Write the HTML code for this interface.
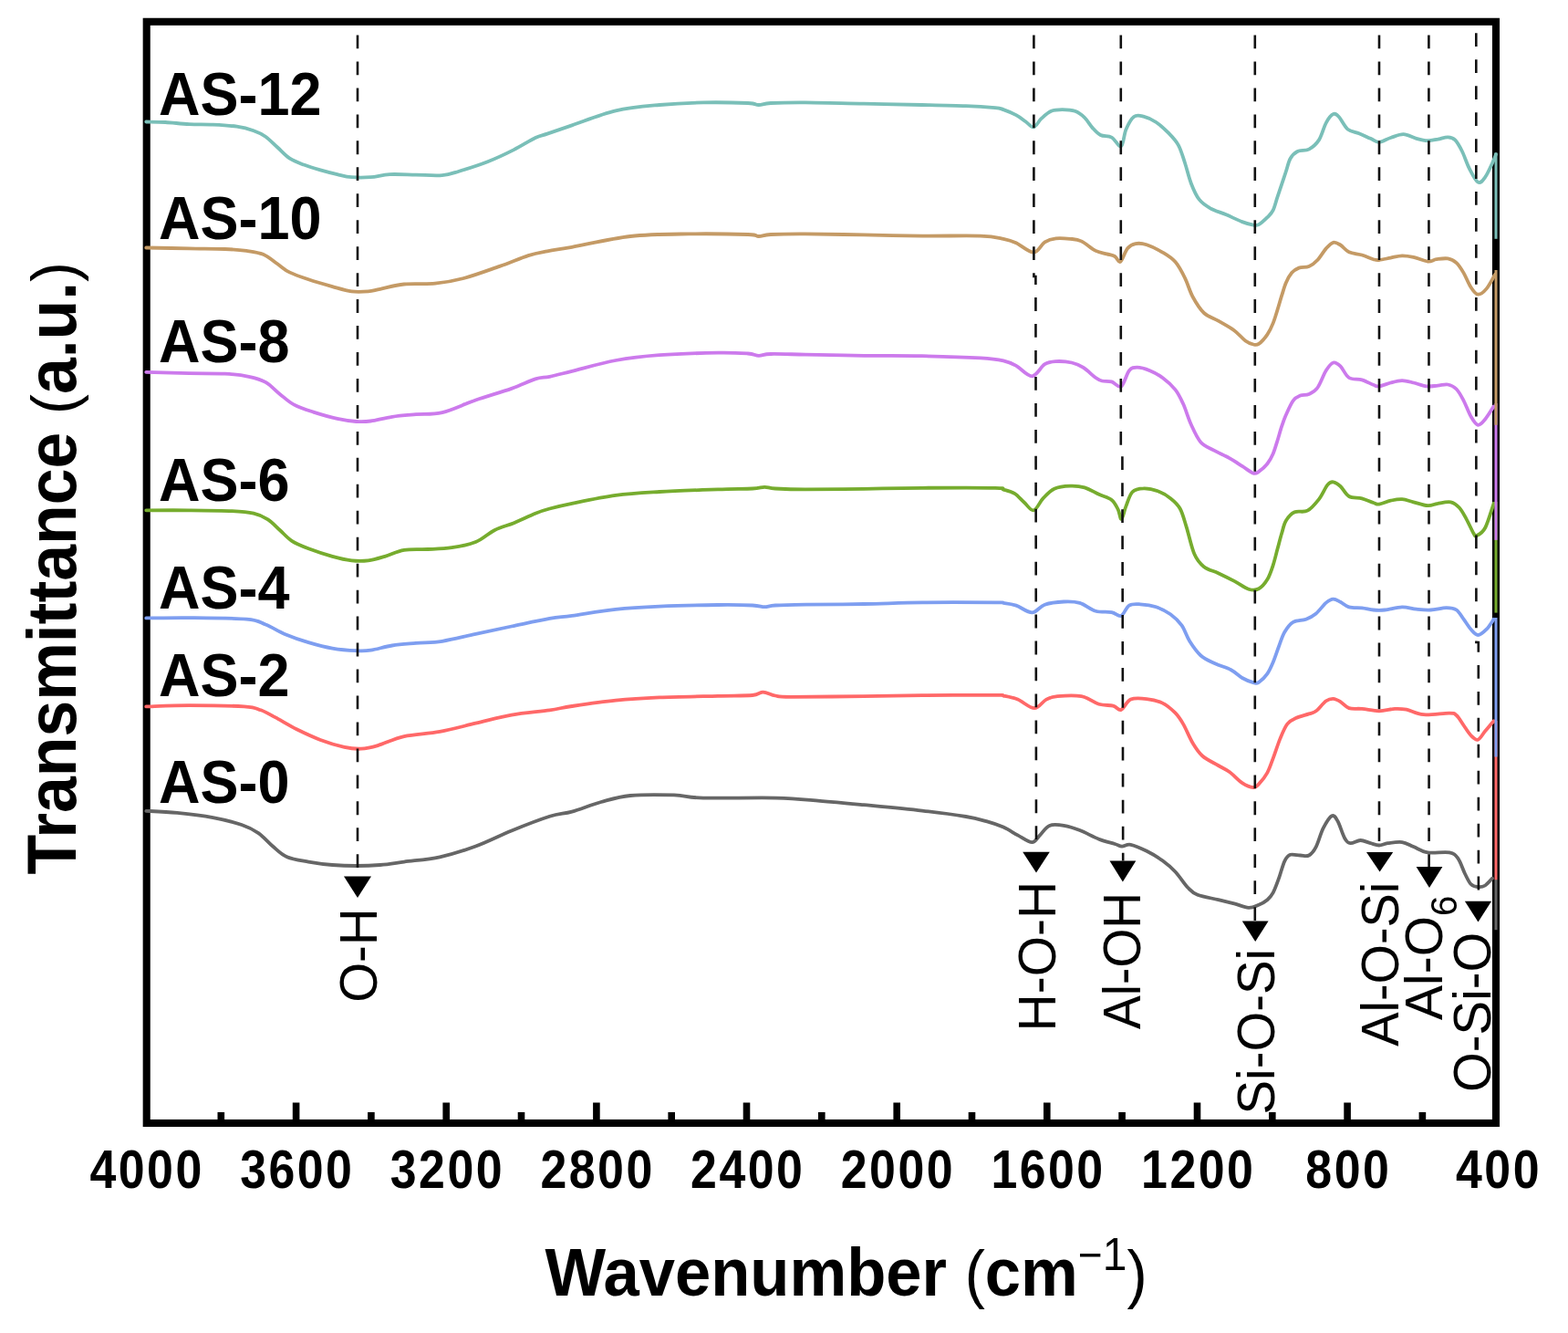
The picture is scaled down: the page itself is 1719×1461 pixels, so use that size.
<!DOCTYPE html>
<html><head><meta charset="utf-8"><title>FTIR spectra</title>
<style>html,body{margin:0;padding:0;background:#fff;}svg{display:block;}</style>
</head><body>
<svg width="1719" height="1461" viewBox="0 0 1719 1461">
<rect width="100%" height="100%" fill="#fff"/>
<rect x="160.7" y="23.8" width="1479.3" height="1207.2" fill="none" stroke="#000" stroke-width="8.1"/>
<path d="M242.3 1227.5V1219.0 M324.6 1227.5V1208.6 M406.9 1227.5V1219.0 M489.2 1227.5V1208.6 M571.5 1227.5V1219.0 M653.9 1227.5V1208.6 M736.2 1227.5V1219.0 M818.5 1227.5V1208.6 M900.8 1227.5V1219.0 M983.2 1227.5V1208.6 M1065.5 1227.5V1219.0 M1147.8 1227.5V1208.6 M1230.1 1227.5V1219.0 M1312.5 1227.5V1208.6 M1394.8 1227.5V1219.0 M1477.1 1227.5V1208.6 M1559.4 1227.5V1219.0" stroke="#000" stroke-width="7.6" fill="none"/>
<g font-family="Liberation Sans, Arial, sans-serif" font-weight="bold" font-size="57" text-anchor="middle" fill="#000">
<text transform="translate(161.1 1301.5) scale(0.91 1.047)" letter-spacing="2.7">4000</text>
<text transform="translate(325.8 1301.5) scale(0.91 1.047)" letter-spacing="2.7">3600</text>
<text transform="translate(490.4 1301.5) scale(0.91 1.047)" letter-spacing="2.7">3200</text>
<text transform="translate(655.1 1301.5) scale(0.91 1.047)" letter-spacing="2.7">2800</text>
<text transform="translate(819.7 1301.5) scale(0.91 1.047)" letter-spacing="2.7">2400</text>
<text transform="translate(984.4 1301.5) scale(0.91 1.047)" letter-spacing="2.7">2000</text>
<text transform="translate(1149.0 1301.5) scale(0.91 1.047)" letter-spacing="2.7">1600</text>
<text transform="translate(1313.7 1301.5) scale(0.91 1.047)" letter-spacing="2.7">1200</text>
<text transform="translate(1478.3 1301.5) scale(0.91 1.047)" letter-spacing="2.7">800</text>
<text transform="translate(1643.0 1301.5) scale(0.91 1.047)" letter-spacing="2.7">400</text>
</g>
<text transform="translate(927.5 1420.4) scale(1 1.06)" font-family="Liberation Sans, Arial, sans-serif" font-weight="bold" font-size="70.6" text-anchor="middle">Wavenumber <tspan font-weight="normal" font-size="66.6">(</tspan>cm<tspan font-weight="normal" font-size="46" dy="-27">−</tspan><tspan font-weight="normal" font-size="48">1</tspan><tspan font-weight="normal" font-size="66.6" dy="27">)</tspan></text>
<text transform="translate(82.8 622.8) rotate(-90) scale(1 1.05)" font-family="Liberation Sans, Arial, sans-serif" font-weight="bold" font-size="71.5" text-anchor="middle">Transmittance <tspan font-weight="normal" font-size="65.7">(</tspan>a.u.<tspan font-weight="normal" font-size="65.7">)</tspan></text>
<path d="M160.2 888.8 C165.9 889.1 182.1 889.7 194.3 890.9 C206.5 892.1 221.7 893.9 233.5 896.1 C245.3 898.3 256.6 901.2 264.9 904.0 C273.2 906.8 277.6 909.2 283.3 913.1 C289.0 917.0 293.8 923.1 299.0 927.5 C304.2 931.9 308.2 936.4 314.7 939.3 C321.2 942.1 329.9 943.1 338.2 944.6 C346.5 946.1 355.7 947.3 364.4 948.0 C373.1 948.7 381.9 949.0 390.6 949.0 C399.3 949.0 408.1 948.7 416.8 948.0 C425.5 947.3 432.1 946.1 443.0 944.6 C453.9 943.1 469.1 942.1 482.2 939.3 C495.3 936.4 508.4 932.3 521.5 927.5 C534.6 922.7 547.3 916.0 560.8 910.5 C574.3 905.0 591.6 898.3 602.6 894.8 C613.6 891.3 617.6 892.2 627.0 889.6 C636.4 887.0 648.3 881.9 659.0 879.0 C669.7 876.1 677.7 873.3 691.0 872.0 C704.3 870.7 725.7 871.0 739.0 871.4 C752.3 871.8 752.3 874.1 771.0 874.6 C789.7 875.1 829.7 874.1 851.0 874.6 C872.3 875.1 883.0 876.5 899.0 877.8 C915.0 879.1 928.3 880.4 947.0 882.2 C965.7 884.0 992.3 886.5 1011.0 888.6 C1029.7 890.7 1047.3 893.1 1059.0 895.0 C1070.7 896.9 1074.6 898.3 1081.4 900.2 C1088.2 902.1 1094.3 904.1 1100.0 906.6 C1105.7 909.1 1110.5 912.6 1115.7 915.4 C1120.9 918.2 1127.3 923.2 1131.4 923.2 C1135.5 923.2 1136.9 918.5 1140.1 915.4 C1143.3 912.3 1146.2 906.6 1150.6 904.9 C1155.0 903.1 1160.8 904.0 1166.3 904.9 C1171.8 905.8 1177.4 907.6 1183.8 910.1 C1190.2 912.6 1198.3 917.2 1204.7 919.7 C1211.1 922.2 1218.0 923.7 1222.2 925.0 C1226.4 926.3 1227.1 927.5 1230.0 927.6 C1232.9 927.7 1235.1 924.9 1239.6 925.8 C1244.1 926.7 1251.3 929.9 1257.1 932.8 C1262.9 935.7 1269.3 939.5 1274.5 943.3 C1279.7 947.1 1283.8 950.5 1288.5 955.5 C1293.2 960.5 1298.3 968.8 1302.4 973.0 C1306.5 977.2 1307.4 978.6 1312.9 980.8 C1318.4 983.0 1328.9 984.5 1335.6 986.1 C1342.3 987.7 1347.6 989.0 1353.1 990.4 C1358.6 991.8 1364.3 994.6 1368.8 994.8 C1373.3 995.0 1376.6 993.1 1380.0 991.7 C1383.4 990.3 1386.8 988.4 1389.4 986.2 C1392.0 984.0 1393.6 982.3 1395.7 978.4 C1397.8 974.5 1399.9 968.5 1402.0 962.7 C1404.1 956.9 1406.2 948.1 1408.3 943.8 C1410.4 939.5 1411.7 937.8 1414.6 936.8 C1417.5 935.8 1422.1 937.4 1425.5 937.5 C1428.9 937.6 1432.1 939.1 1435.0 937.5 C1437.9 935.9 1440.2 933.1 1442.8 928.1 C1445.4 923.1 1447.8 913.3 1450.7 907.7 C1453.6 902.1 1457.5 895.6 1460.1 894.3 C1462.7 893.0 1464.1 895.7 1466.4 899.8 C1468.8 903.9 1471.9 914.6 1474.2 918.7 C1476.5 922.8 1477.6 923.8 1480.5 924.2 C1483.4 924.6 1487.8 921.0 1491.5 921.0 C1495.2 921.0 1499.1 923.3 1502.5 924.2 C1505.9 925.1 1508.8 926.5 1511.9 926.5 C1515.1 926.5 1517.2 924.8 1521.4 924.2 C1525.6 923.6 1532.4 922.5 1537.1 923.1 C1541.8 923.8 1544.9 926.2 1549.6 928.1 C1554.3 930.0 1558.8 933.4 1565.3 934.4 C1571.8 935.4 1583.4 933.3 1588.9 934.4 C1594.4 935.5 1595.4 936.8 1598.3 940.7 C1601.2 944.6 1603.8 953.3 1606.2 958.0 C1608.6 962.7 1610.2 966.6 1612.5 969.0 C1614.8 971.4 1617.7 971.9 1620.3 972.1 C1622.9 972.4 1625.6 972.1 1628.2 970.5 C1630.8 968.9 1634.7 964.0 1636.0 962.7" fill="none" stroke="#666666" stroke-width="3.8" stroke-linejoin="round" stroke-linecap="round"/>
<path d="M1640 964V1019.2" stroke="#666666" stroke-width="3"/>
<path d="M160.2 774.4 C168.1 774.2 189.5 773.1 207.4 773.1 C225.3 773.1 254.5 773.5 267.6 774.4 C280.7 775.3 280.2 776.3 285.9 778.3 C291.6 780.3 295.1 782.7 301.6 786.2 C308.2 789.7 316.9 795.2 325.2 799.3 C333.5 803.4 342.6 807.7 351.3 811.0 C360.0 814.3 370.1 817.3 377.5 818.9 C384.9 820.5 389.7 821.0 395.8 820.7 C401.9 820.4 406.3 819.4 414.2 817.1 C422.1 814.8 431.7 809.6 443.0 807.1 C454.3 804.6 469.1 804.3 482.2 801.9 C495.3 799.5 508.4 795.8 521.5 792.7 C534.6 789.7 547.3 786.0 560.8 783.6 C574.3 781.2 591.6 779.9 602.6 778.3 C613.6 776.7 614.9 775.8 627.0 774.0 C639.1 772.2 659.0 769.2 675.0 767.6 C691.0 766.0 704.3 765.2 723.0 764.4 C741.7 763.6 770.0 763.2 787.0 762.8 C804.0 762.4 816.7 762.7 825.0 762.0 C833.3 761.3 832.4 758.5 836.6 758.6 C840.8 758.7 844.9 761.6 850.0 762.5 C855.1 763.4 850.8 763.7 867.0 763.8 C883.2 763.9 923.0 763.4 947.0 763.1 C971.0 762.8 987.0 762.4 1011.0 762.2 C1035.0 762.0 1076.2 761.7 1091.0 761.8 C1105.8 761.9 1095.9 761.8 1100.0 762.6 C1104.1 763.4 1110.0 764.3 1115.7 766.6 C1121.4 768.9 1128.8 776.2 1134.0 776.2 C1139.2 776.2 1142.9 768.8 1147.1 766.6 C1151.3 764.4 1152.9 763.7 1159.3 763.1 C1165.7 762.5 1177.9 761.7 1185.5 763.1 C1193.1 764.5 1198.9 770.0 1204.7 771.8 C1210.5 773.5 1216.3 772.6 1220.4 773.6 C1224.5 774.6 1225.9 779.1 1229.1 777.9 C1232.3 776.7 1234.9 768.6 1239.6 766.6 C1244.3 764.6 1251.3 765.4 1257.1 766.1 C1262.9 766.8 1269.3 768.1 1274.5 770.6 C1279.7 773.1 1284.7 777.6 1288.5 781.4 C1292.3 785.2 1294.0 788.1 1297.2 793.6 C1300.4 799.1 1304.2 808.8 1307.7 814.6 C1311.2 820.4 1313.6 824.4 1318.2 828.5 C1322.8 832.6 1330.7 836.1 1335.6 839.0 C1340.5 841.9 1343.4 842.8 1347.8 846.0 C1352.2 849.2 1357.4 855.4 1361.8 858.2 C1366.2 861.1 1371.0 862.9 1374.0 863.1 C1377.0 863.3 1377.4 862.1 1380.0 859.4 C1382.6 856.7 1386.8 851.5 1389.4 846.8 C1392.0 842.1 1393.3 837.4 1395.7 831.1 C1398.1 824.8 1401.0 815.4 1403.6 809.1 C1406.2 802.8 1408.5 797.1 1411.4 793.4 C1414.3 789.7 1416.9 788.9 1420.8 787.1 C1424.7 785.3 1431.3 783.7 1435.0 782.4 C1438.7 781.1 1439.7 781.6 1442.8 779.3 C1445.9 776.9 1450.6 770.5 1453.8 768.3 C1457.0 766.1 1459.1 765.8 1461.7 765.9 C1464.3 766.0 1466.6 767.4 1469.5 769.1 C1472.4 770.8 1475.0 774.8 1478.9 776.1 C1482.8 777.4 1487.6 776.4 1493.1 776.9 C1498.6 777.4 1505.9 779.3 1511.9 779.3 C1517.9 779.3 1524.2 777.2 1529.2 776.9 C1534.2 776.6 1536.6 776.7 1541.8 777.7 C1547.0 778.8 1552.8 782.6 1560.6 783.2 C1568.4 783.9 1582.9 781.5 1588.9 781.6 C1594.9 781.7 1594.1 781.8 1596.7 784.0 C1599.3 786.2 1602.0 791.3 1604.6 795.0 C1607.2 798.7 1609.9 803.4 1612.5 806.0 C1615.1 808.6 1617.7 811.5 1620.3 810.7 C1622.9 809.9 1625.3 804.7 1628.2 801.3 C1631.1 797.9 1636.0 792.1 1637.6 790.3" fill="none" stroke="#ff6868" stroke-width="3.8" stroke-linejoin="round" stroke-linecap="round"/>
<path d="M1640 790V964.2" stroke="#ff6868" stroke-width="3"/>
<path d="M160.2 677.4 C168.1 677.4 189.1 676.9 207.4 677.1 C225.7 677.3 256.2 677.5 270.2 678.7 C284.1 679.9 284.1 681.8 291.1 684.5 C298.1 687.2 304.2 691.6 312.1 694.9 C320.0 698.2 329.5 701.5 338.2 704.1 C346.9 706.7 355.7 709.1 364.4 710.6 C373.1 712.1 383.6 712.9 390.6 713.2 C397.6 713.6 399.8 713.7 406.3 712.7 C412.9 711.8 421.6 708.8 429.9 707.5 C438.2 706.2 446.9 705.7 456.0 704.9 C465.1 704.1 473.9 704.5 484.8 702.8 C495.7 701.1 508.8 697.6 521.5 694.9 C534.2 692.2 547.3 689.3 560.8 686.5 C574.3 683.7 591.6 679.9 602.6 677.9 C613.6 675.9 614.9 676.5 627.0 674.8 C639.1 673.1 659.0 669.5 675.0 667.8 C691.0 666.1 704.3 665.4 723.0 664.6 C741.7 663.8 770.0 663.2 787.0 663.0 C804.0 662.8 816.5 663.1 825.0 663.5 C833.5 663.9 834.0 665.2 838.2 665.2 C842.4 665.2 842.5 663.9 850.0 663.5 C857.5 663.1 866.8 662.9 883.0 662.6 C899.2 662.4 925.7 662.4 947.0 662.0 C968.3 661.6 987.0 660.7 1011.0 660.4 C1035.0 660.1 1076.2 660.3 1091.0 660.4 C1105.8 660.5 1096.2 660.4 1100.0 660.9 C1103.8 661.4 1108.8 661.9 1114.0 663.6 C1119.2 665.4 1126.2 671.5 1131.4 671.4 C1136.6 671.2 1139.6 664.7 1145.4 662.7 C1151.2 660.7 1159.9 659.8 1166.3 659.5 C1172.7 659.2 1178.0 659.2 1183.8 660.9 C1189.6 662.6 1195.4 668.0 1201.2 669.7 C1207.0 671.4 1214.1 670.2 1218.7 671.1 C1223.3 672.0 1225.9 676.1 1229.1 674.9 C1232.3 673.6 1234.4 665.7 1237.9 663.6 C1241.4 661.5 1245.2 662.0 1250.1 662.3 C1255.0 662.6 1262.0 663.5 1267.5 665.3 C1273.0 667.1 1278.5 669.9 1283.2 673.2 C1287.9 676.6 1292.0 680.5 1295.5 685.4 C1299.0 690.3 1300.7 697.3 1304.2 702.8 C1307.7 708.3 1311.8 714.4 1316.4 718.5 C1321.1 722.6 1326.6 724.7 1332.1 727.3 C1337.6 729.9 1344.6 731.6 1349.6 734.2 C1354.5 736.8 1357.7 740.7 1361.8 743.0 C1365.9 745.3 1371.0 747.4 1374.0 748.2 C1377.0 749.0 1377.4 749.4 1380.0 747.8 C1382.6 746.2 1386.8 742.1 1389.4 738.4 C1392.0 734.7 1393.6 730.8 1395.7 725.8 C1397.8 720.8 1399.9 714.0 1402.0 708.5 C1404.1 703.0 1405.7 697.2 1408.3 692.8 C1410.9 688.3 1413.8 684.1 1417.7 681.8 C1421.6 679.4 1427.6 680.3 1431.8 678.7 C1436.0 677.1 1439.1 675.4 1442.8 672.4 C1446.5 669.4 1450.6 663.2 1453.8 660.6 C1457.0 658.0 1459.1 656.8 1461.7 656.7 C1464.3 656.6 1466.6 658.4 1469.5 659.8 C1472.4 661.2 1475.0 664.2 1478.9 665.3 C1482.8 666.4 1488.6 665.9 1493.1 666.4 C1497.5 666.9 1501.4 668.1 1505.6 668.5 C1509.8 668.9 1513.0 669.0 1518.2 668.5 C1523.5 668.0 1531.3 665.4 1537.1 665.3 C1542.9 665.2 1547.6 667.2 1552.8 667.7 C1558.0 668.2 1563.0 668.8 1568.5 668.5 C1574.0 668.2 1581.0 666.1 1585.7 666.1 C1590.4 666.1 1593.6 666.4 1596.7 668.5 C1599.8 670.6 1602.0 675.2 1604.6 678.7 C1607.2 682.2 1609.9 686.8 1612.5 689.7 C1615.1 692.6 1617.4 696.0 1620.3 696.0 C1623.2 696.0 1626.8 692.6 1629.7 689.7 C1632.6 686.8 1636.3 680.5 1637.6 678.7" fill="none" stroke="#7e9ef0" stroke-width="3.8" stroke-linejoin="round" stroke-linecap="round"/>
<path d="M1640 677V829.5" stroke="#7e9ef0" stroke-width="3"/>
<path d="M160.2 559.3 C168.1 559.3 191.7 559.2 207.4 559.3 C223.1 559.4 242.7 559.5 254.5 560.1 C266.3 560.7 271.5 561.2 278.0 562.7 C284.5 564.2 288.9 566.2 293.7 569.3 C298.5 572.3 302.4 577.1 306.8 581.0 C311.2 584.9 314.7 589.4 319.9 592.8 C325.1 596.2 330.8 598.4 338.2 601.2 C345.6 604.0 356.5 607.6 364.4 609.8 C372.3 612.0 378.8 613.5 385.4 614.3 C391.9 615.0 397.6 615.0 403.7 614.3 C409.8 613.5 415.4 611.7 422.0 609.8 C428.6 607.9 435.1 604.1 443.0 602.8 C450.9 601.5 460.4 602.4 469.1 602.0 C477.8 601.6 486.6 601.5 495.3 600.2 C504.0 598.9 513.6 597.3 521.5 594.1 C529.4 590.9 535.4 584.5 542.4 581.0 C549.4 577.5 556.0 576.2 563.4 573.2 C570.8 570.2 580.4 565.3 586.9 562.7 C593.4 560.1 595.9 559.3 602.6 557.5 C609.3 555.7 614.9 554.2 627.0 551.8 C639.1 549.3 659.0 544.9 675.0 542.8 C691.0 540.7 704.3 540.1 723.0 539.0 C741.7 537.9 770.0 537.0 787.0 536.4 C804.0 535.8 816.5 535.9 825.0 535.5 C833.5 535.1 834.0 533.8 838.2 533.8 C842.4 533.8 842.5 535.1 850.0 535.5 C857.5 535.9 866.8 536.4 883.0 536.4 C899.2 536.4 925.7 536.1 947.0 535.8 C968.3 535.5 987.0 535.0 1011.0 534.8 C1035.0 534.6 1076.2 534.5 1091.0 534.8 C1105.8 535.1 1096.5 535.6 1100.0 536.6 C1103.5 537.6 1108.4 538.6 1112.2 540.9 C1116.0 543.2 1119.2 547.4 1122.7 550.5 C1126.2 553.6 1129.7 560.0 1133.2 559.3 C1136.7 558.6 1139.8 550.1 1143.6 546.2 C1147.4 542.3 1150.8 538.0 1155.8 535.7 C1160.8 533.4 1167.8 532.8 1173.3 532.6 C1178.8 532.4 1183.8 532.8 1189.0 534.3 C1194.2 535.8 1199.8 539.5 1204.7 541.8 C1209.7 544.1 1215.2 545.1 1218.7 547.9 C1222.2 550.7 1223.9 554.9 1225.7 558.4 C1227.5 561.9 1228.0 569.5 1229.5 568.9 C1231.0 568.3 1232.4 559.8 1234.4 554.9 C1236.4 550.0 1238.2 542.5 1241.4 539.2 C1244.6 536.0 1248.9 535.5 1253.6 535.4 C1258.2 535.2 1264.4 536.5 1269.3 538.3 C1274.2 540.1 1279.1 543.0 1283.2 546.2 C1287.3 549.4 1290.8 552.3 1293.7 557.5 C1296.6 562.7 1298.1 569.3 1300.7 577.6 C1303.3 585.9 1306.2 600.0 1309.4 607.3 C1312.6 614.6 1315.5 617.7 1319.9 621.2 C1324.3 624.7 1330.1 625.6 1335.6 628.2 C1341.1 630.8 1347.6 634.0 1353.1 636.9 C1358.6 639.8 1364.3 644.3 1368.8 645.7 C1373.3 647.1 1376.6 647.1 1380.0 645.3 C1383.4 643.5 1386.8 639.4 1389.4 635.1 C1392.0 630.8 1393.9 624.9 1395.7 619.4 C1397.5 613.9 1398.8 607.9 1400.4 602.1 C1402.0 596.3 1403.5 590.0 1405.1 584.8 C1406.7 579.6 1407.4 574.6 1409.8 570.7 C1412.2 566.8 1415.4 563.1 1419.3 561.3 C1423.2 559.5 1429.0 562.1 1433.4 559.7 C1437.9 557.3 1442.3 551.8 1446.0 547.1 C1449.7 542.4 1452.8 534.5 1455.4 531.4 C1458.0 528.3 1459.4 528.0 1461.7 528.3 C1464.0 528.6 1466.6 530.4 1469.5 533.0 C1472.4 535.6 1475.0 541.8 1478.9 544.0 C1482.8 546.2 1488.6 545.1 1493.1 546.3 C1497.5 547.5 1502.5 550.0 1505.6 551.0 C1508.7 552.0 1508.8 553.0 1511.9 552.6 C1515.1 552.2 1520.3 549.6 1524.5 548.7 C1528.7 547.8 1532.9 546.8 1537.1 547.1 C1541.3 547.4 1544.9 549.1 1549.6 550.3 C1554.3 551.5 1560.8 554.0 1565.3 554.2 C1569.8 554.5 1572.1 552.4 1576.3 551.8 C1580.5 551.1 1586.6 549.5 1590.5 550.3 C1594.4 551.1 1597.0 553.4 1599.9 556.5 C1602.8 559.6 1605.1 564.4 1607.7 569.1 C1610.3 573.8 1613.8 581.8 1615.6 584.8 C1617.4 587.8 1616.6 588.2 1618.7 587.2 C1620.8 586.2 1625.1 584.4 1628.2 578.5 C1631.3 572.6 1636.0 556.2 1637.6 551.8" fill="none" stroke="#76ac2e" stroke-width="3.8" stroke-linejoin="round" stroke-linecap="round"/>
<path d="M1640 550V671.6" stroke="#76ac2e" stroke-width="3"/>
<path d="M160.2 407.9 C168.1 408.1 193.0 408.9 207.4 409.2 C221.8 409.5 235.7 409.1 246.6 409.7 C257.5 410.3 265.4 411.3 272.8 412.8 C280.2 414.3 285.4 415.6 291.1 418.8 C296.8 422.0 301.6 427.8 306.8 431.9 C312.0 436.0 316.4 440.4 322.5 443.7 C328.6 447.0 335.6 449.1 343.5 451.6 C351.4 454.1 361.8 457.2 369.7 458.9 C377.6 460.6 384.5 461.6 390.6 462.0 C396.7 462.4 399.8 462.4 406.3 461.5 C412.9 460.6 421.6 458.0 429.9 456.8 C438.2 455.6 446.9 455.0 456.0 454.2 C465.1 453.4 473.9 454.7 484.8 452.1 C495.7 449.5 508.8 442.9 521.5 438.5 C534.2 434.1 549.9 429.8 560.8 425.9 C571.7 422.0 579.9 417.6 586.9 415.4 C593.9 413.2 595.9 414.2 602.6 412.8 C609.3 411.4 614.9 409.8 627.0 406.8 C639.1 403.8 659.0 397.9 675.0 395.0 C691.0 392.1 704.3 390.6 723.0 389.2 C741.7 387.8 770.8 386.9 787.0 386.6 C803.2 386.3 812.5 387.0 820.0 387.5 C827.5 388.0 827.6 389.7 831.8 389.8 C836.0 389.9 836.5 388.2 845.0 388.0 C853.5 387.8 866.0 388.3 883.0 388.6 C900.0 388.9 925.7 389.5 947.0 389.8 C968.3 390.1 989.7 389.8 1011.0 390.2 C1032.3 390.6 1060.2 391.5 1075.0 392.4 C1089.8 393.3 1093.5 394.0 1100.0 395.4 C1106.5 396.8 1108.8 398.1 1114.0 400.9 C1119.2 403.7 1126.2 412.6 1131.4 412.3 C1136.6 412.0 1141.0 401.9 1145.4 399.2 C1149.8 396.5 1152.7 396.4 1157.6 396.1 C1162.5 395.8 1170.0 396.4 1175.0 397.5 C1180.0 398.6 1182.9 399.9 1187.3 402.7 C1191.7 405.4 1197.7 411.5 1201.2 414.0 C1204.7 416.5 1205.3 416.8 1208.2 417.5 C1211.1 418.2 1215.2 417.4 1218.7 418.4 C1222.2 419.4 1225.9 425.6 1229.1 423.6 C1232.3 421.6 1235.0 409.7 1237.9 406.2 C1240.8 402.7 1242.8 402.7 1246.6 402.7 C1250.4 402.7 1255.9 404.3 1260.6 406.2 C1265.2 408.1 1269.8 410.5 1274.5 414.0 C1279.2 417.5 1284.7 422.3 1288.5 427.1 C1292.3 431.9 1294.3 436.4 1297.2 442.8 C1300.1 449.2 1302.7 458.5 1305.9 465.5 C1309.1 472.5 1312.3 480.1 1316.4 484.7 C1320.5 489.3 1325.2 490.5 1330.4 493.4 C1335.6 496.3 1342.6 499.3 1347.8 502.2 C1353.0 505.1 1357.4 508.1 1361.8 510.9 C1366.2 513.6 1371.0 517.7 1374.0 518.7 C1377.0 519.7 1377.4 518.6 1380.0 516.9 C1382.6 515.1 1386.8 511.5 1389.4 508.2 C1392.0 504.9 1393.9 501.4 1395.7 497.2 C1397.5 493.0 1398.8 488.1 1400.4 483.1 C1402.0 478.1 1403.5 472.1 1405.1 467.4 C1406.7 462.7 1407.7 459.5 1409.8 454.8 C1411.9 450.1 1415.1 442.6 1417.7 439.1 C1420.3 435.6 1422.6 434.8 1425.5 433.6 C1428.4 432.4 1431.8 433.4 1435.0 432.0 C1438.2 430.6 1441.3 429.3 1444.4 425.0 C1447.5 420.7 1450.9 410.7 1453.8 406.1 C1456.7 401.5 1459.1 398.3 1461.7 397.5 C1464.3 396.7 1466.6 398.6 1469.5 401.4 C1472.4 404.1 1475.0 411.5 1478.9 414.0 C1482.8 416.5 1488.6 415.0 1493.1 416.3 C1497.5 417.6 1502.5 420.6 1505.6 421.8 C1508.7 423.0 1508.8 423.8 1511.9 423.4 C1515.1 423.0 1520.3 420.6 1524.5 419.5 C1528.7 418.4 1532.9 417.1 1537.1 417.1 C1541.3 417.1 1545.1 418.4 1549.6 419.5 C1554.0 420.6 1559.3 422.9 1563.8 423.4 C1568.2 423.9 1572.4 422.9 1576.3 422.6 C1580.2 422.3 1583.9 420.9 1587.3 421.5 C1590.7 422.1 1593.8 423.6 1596.7 426.5 C1599.6 429.4 1602.0 434.1 1604.6 439.1 C1607.2 444.1 1609.9 451.9 1612.5 456.4 C1615.1 460.8 1617.7 465.3 1620.3 465.8 C1622.9 466.3 1625.3 462.9 1628.2 459.5 C1631.1 456.1 1636.0 447.8 1637.6 445.4" fill="none" stroke="#cc7aec" stroke-width="3.8" stroke-linejoin="round" stroke-linecap="round"/>
<path d="M1640 442V591.9" stroke="#cc7aec" stroke-width="3"/>
<path d="M160.2 271.5 C168.1 271.6 193.0 272.1 207.4 272.3 C221.8 272.6 236.1 272.6 246.6 273.0 C257.1 273.4 263.2 273.9 270.2 274.9 C277.2 275.9 282.8 276.4 288.5 278.8 C294.2 281.2 299.4 286.0 304.2 289.3 C309.0 292.6 311.6 295.6 317.3 298.4 C323.0 301.2 330.4 303.7 338.2 306.3 C346.0 308.9 356.5 311.9 364.4 314.1 C372.3 316.3 378.8 318.5 385.4 319.4 C391.9 320.3 398.5 319.8 403.7 319.4 C408.9 319.0 410.2 318.1 416.8 316.8 C423.4 315.5 433.0 312.5 443.0 311.5 C453.0 310.5 466.1 311.8 477.0 310.7 C487.9 309.6 496.6 308.1 508.4 305.0 C520.2 301.9 535.9 296.0 547.7 291.9 C559.5 287.8 570.4 282.9 579.1 280.1 C587.8 277.4 592.0 276.9 600.0 275.4 C608.0 273.8 611.8 273.5 627.0 270.8 C642.2 268.1 669.7 261.4 691.0 259.0 C712.3 256.6 733.5 256.7 755.0 256.4 C776.5 256.1 807.2 256.6 820.0 257.0 C832.8 257.4 827.6 259.0 831.8 259.0 C836.0 259.0 836.5 257.4 845.0 257.0 C853.5 256.6 866.0 256.3 883.0 256.4 C900.0 256.5 925.7 257.0 947.0 257.4 C968.3 257.8 989.7 258.4 1011.0 258.6 C1032.3 258.8 1060.2 258.1 1075.0 258.6 C1089.8 259.1 1093.5 260.5 1100.0 261.8 C1106.5 263.1 1108.5 263.7 1114.0 266.2 C1119.5 268.7 1128.0 276.8 1133.2 276.6 C1138.4 276.5 1141.3 267.9 1145.4 265.3 C1149.5 262.8 1152.9 261.9 1157.6 261.3 C1162.2 260.7 1168.6 261.3 1173.3 261.8 C1178.0 262.3 1180.8 262.2 1185.5 264.4 C1190.2 266.6 1196.5 272.6 1201.2 274.9 C1205.9 277.2 1209.9 277.4 1213.4 278.4 C1216.9 279.4 1219.7 279.6 1222.2 281.0 C1224.7 282.4 1226.0 288.2 1228.3 286.8 C1230.6 285.4 1233.3 275.6 1236.1 272.3 C1238.9 269.0 1241.4 267.8 1244.9 267.1 C1248.4 266.4 1252.2 266.7 1257.1 268.3 C1262.0 269.9 1269.3 273.5 1274.5 276.6 C1279.7 279.7 1284.4 282.4 1288.5 287.1 C1292.6 291.8 1295.8 298.2 1299.0 304.6 C1302.2 311.0 1304.2 319.1 1307.7 325.5 C1311.2 331.9 1315.2 338.6 1319.9 343.0 C1324.6 347.4 1330.1 348.5 1335.6 351.7 C1341.1 354.9 1348.1 358.6 1353.1 362.2 C1358.0 365.8 1361.8 370.9 1365.3 373.5 C1368.8 376.1 1371.5 376.9 1374.0 377.5 C1376.5 378.1 1377.4 378.7 1380.0 376.9 C1382.6 375.1 1386.8 370.4 1389.4 366.6 C1392.0 362.8 1393.9 358.6 1395.7 354.1 C1397.5 349.7 1398.8 344.9 1400.4 339.9 C1402.0 334.9 1403.5 329.2 1405.1 324.2 C1406.7 319.2 1408.0 314.3 1409.8 310.1 C1411.6 305.9 1413.7 301.9 1416.1 299.1 C1418.5 296.4 1420.8 294.8 1424.0 293.6 C1427.2 292.4 1431.6 293.4 1435.0 292.0 C1438.4 290.6 1441.3 288.3 1444.4 285.0 C1447.5 281.7 1450.9 275.6 1453.8 272.4 C1456.7 269.2 1459.1 266.4 1461.7 265.8 C1464.3 265.2 1466.6 266.8 1469.5 268.5 C1472.4 270.2 1475.0 274.5 1478.9 276.3 C1482.8 278.1 1488.6 278.2 1493.1 279.5 C1497.5 280.8 1502.5 283.3 1505.6 284.2 C1508.7 285.1 1508.8 285.3 1511.9 285.0 C1515.1 284.7 1520.3 283.4 1524.5 282.6 C1528.7 281.8 1532.9 280.4 1537.1 280.3 C1541.3 280.2 1544.9 280.8 1549.6 281.8 C1554.3 282.8 1561.1 286.1 1565.3 286.5 C1569.5 286.9 1571.1 284.7 1574.8 284.2 C1578.5 283.7 1583.6 282.8 1587.3 283.4 C1591.0 284.0 1593.8 285.5 1596.7 288.1 C1599.6 290.7 1602.0 294.7 1604.6 299.1 C1607.2 303.6 1609.9 310.9 1612.5 314.8 C1615.1 318.7 1617.4 322.4 1620.3 322.7 C1623.2 323.0 1626.6 320.1 1629.7 316.4 C1632.8 312.7 1637.5 303.3 1639.1 300.7" fill="none" stroke="#c49a65" stroke-width="3.8" stroke-linejoin="round" stroke-linecap="round"/>
<path d="M1640 296V465.8" stroke="#c49a65" stroke-width="3"/>
<path d="M160.2 133.5 C163.7 133.6 173.3 133.6 181.2 134.0 C189.1 134.4 198.7 135.7 207.4 136.1 C216.1 136.5 224.8 136.2 233.5 136.6 C242.2 137.0 252.3 137.6 259.7 138.7 C267.1 139.8 272.8 141.4 278.0 143.2 C283.2 145.0 286.7 146.6 291.1 149.7 C295.5 152.8 299.8 157.6 304.2 161.5 C308.6 165.4 312.5 170.1 317.3 173.3 C322.1 176.5 327.3 178.4 333.0 180.6 C338.7 182.8 345.2 184.7 351.3 186.4 C357.4 188.2 364.0 189.8 369.7 191.1 C375.4 192.4 379.3 193.7 385.4 194.2 C391.5 194.7 399.3 194.7 406.3 194.2 C413.3 193.7 419.0 191.5 427.3 191.1 C435.6 190.7 446.4 191.4 456.0 191.6 C465.6 191.8 476.9 192.8 484.8 192.1 C492.7 191.4 494.9 190.2 503.2 187.7 C511.5 185.2 524.6 181.1 534.6 177.2 C544.6 173.3 554.7 168.5 563.4 164.1 C572.1 159.7 580.9 153.9 587.0 151.0 C593.1 148.1 593.3 148.9 600.0 146.6 C606.7 144.3 614.5 141.6 627.0 137.4 C639.5 133.2 659.0 125.1 675.0 121.4 C691.0 117.7 707.0 116.5 723.0 115.0 C739.0 113.5 754.8 112.7 771.0 112.4 C787.2 112.1 809.9 112.6 820.0 113.0 C830.1 113.4 827.6 115.0 831.8 115.0 C836.0 115.0 836.5 113.4 845.0 113.0 C853.5 112.6 866.0 112.3 883.0 112.4 C900.0 112.5 925.7 113.3 947.0 113.7 C968.3 114.1 992.3 114.6 1011.0 115.0 C1029.7 115.4 1045.7 115.7 1059.0 116.2 C1072.3 116.7 1084.2 117.6 1091.0 118.2 C1097.8 118.8 1096.2 118.8 1100.0 120.1 C1103.8 121.4 1109.9 124.0 1114.0 126.2 C1118.1 128.4 1121.2 131.0 1124.4 133.2 C1127.6 135.4 1130.3 139.9 1133.2 139.3 C1136.1 138.7 1138.7 132.6 1141.9 129.7 C1145.1 126.8 1148.6 123.4 1152.4 121.8 C1156.2 120.2 1160.2 120.1 1164.6 120.1 C1168.9 120.1 1174.4 120.3 1178.5 121.8 C1182.6 123.2 1185.8 125.8 1189.0 128.8 C1192.2 131.9 1194.8 136.9 1197.7 140.1 C1200.6 143.3 1203.0 146.2 1206.5 148.0 C1210.0 149.8 1214.9 148.6 1218.7 150.6 C1222.5 152.6 1226.5 161.6 1229.1 160.2 C1231.7 158.8 1232.1 147.3 1234.4 141.9 C1236.7 136.5 1239.9 130.3 1243.1 127.9 C1246.3 125.5 1249.5 126.6 1253.6 127.6 C1257.7 128.6 1262.8 130.9 1267.5 134.0 C1272.2 137.1 1277.4 142.0 1281.5 146.2 C1285.6 150.4 1289.1 153.9 1292.0 159.3 C1294.9 164.7 1296.7 171.5 1299.0 178.5 C1301.3 185.5 1303.3 194.5 1305.9 201.2 C1308.5 207.9 1311.2 214.2 1314.7 218.7 C1318.2 223.2 1322.0 225.5 1326.9 228.3 C1331.8 231.1 1338.5 232.8 1344.3 235.3 C1350.1 237.8 1356.8 241.2 1361.8 243.1 C1366.8 245.0 1371.0 246.1 1374.0 246.6 C1377.0 247.1 1377.4 247.5 1380.0 246.1 C1382.6 244.7 1386.8 240.8 1389.4 238.2 C1392.0 235.6 1393.9 234.1 1395.7 230.4 C1397.5 226.7 1398.8 220.9 1400.4 216.2 C1402.0 211.5 1403.5 206.8 1405.1 202.1 C1406.7 197.4 1408.2 192.7 1409.8 188.0 C1411.4 183.3 1412.5 177.5 1414.6 173.8 C1416.7 170.1 1419.0 167.7 1422.4 166.0 C1425.8 164.3 1431.1 165.7 1435.0 163.6 C1438.9 161.5 1442.9 158.2 1446.0 153.4 C1449.1 148.6 1451.2 139.3 1453.8 134.6 C1456.4 129.9 1459.3 126.1 1461.7 125.1 C1464.1 124.0 1465.4 125.6 1468.0 128.3 C1470.6 131.1 1473.8 138.6 1477.4 141.6 C1481.1 144.6 1485.7 144.6 1489.9 146.3 C1494.1 148.0 1498.8 150.2 1502.5 151.8 C1506.2 153.4 1508.2 155.9 1511.9 155.8 C1515.6 155.7 1520.0 152.4 1524.5 151.0 C1529.0 149.6 1533.9 147.0 1538.6 147.1 C1543.3 147.2 1548.3 150.6 1552.8 151.8 C1557.2 153.0 1561.4 154.1 1565.3 154.2 C1569.2 154.3 1572.6 153.2 1576.3 152.6 C1580.0 151.9 1584.1 150.2 1587.3 150.3 C1590.5 150.4 1592.6 150.8 1595.2 153.4 C1597.8 156.0 1600.4 160.8 1603.0 166.0 C1605.6 171.2 1608.0 179.2 1610.9 184.8 C1613.8 190.4 1617.4 198.1 1620.3 199.7 C1623.2 201.3 1625.3 198.2 1628.2 194.2 C1631.1 190.1 1635.6 179.6 1637.6 175.4 C1639.5 171.2 1639.5 170.2 1639.9 169.1" fill="none" stroke="#7abfb8" stroke-width="3.8" stroke-linejoin="round" stroke-linecap="round"/>
<path d="M1640 167.5V261.8" stroke="#7abfb8" stroke-width="3"/>
<g font-family="Liberation Sans, Arial, sans-serif" font-weight="bold" font-size="63" fill="#000">
<text transform="translate(174 126.0) scale(1 1.065)">AS-12</text>
<text transform="translate(174 261.9) scale(1 1.065)">AS-10</text>
<text transform="translate(174 397.4) scale(1 1.065)">AS-8</text>
<text transform="translate(174 548.6) scale(1 1.065)">AS-6</text>
<text transform="translate(174 666.8) scale(1 1.065)">AS-4</text>
<text transform="translate(174 763.3) scale(1 1.065)">AS-2</text>
<text transform="translate(174 880.2) scale(1 1.065)">AS-0</text>
</g>
<path d="M392.0 38.5 L392.0 954.0" stroke="#111" stroke-width="2.6" stroke-dasharray="14.8 14.16" fill="none"/>
<path d="M1133.4 38.5 L1133.4 303.0 L1135.4 303.0 L1136.0 924.0" stroke="#111" stroke-width="2.6" stroke-dasharray="14.8 14.16" fill="none"/>
<path d="M1228.8 38.5 L1228.8 493.0 L1230.4 493.0 L1231.2 943.5" stroke="#111" stroke-width="2.6" stroke-dasharray="14.8 14.16" fill="none"/>
<path d="M1375.8 38.5 L1375.8 1009.5" stroke="#111" stroke-width="2.6" stroke-dasharray="14.8 14.16" fill="none"/>
<path d="M1512.0 38.5 L1512.0 927.0" stroke="#111" stroke-width="2.6" stroke-dasharray="14.8 14.16" fill="none"/>
<path d="M1566.4 38.5 L1566.6 950.0" stroke="#111" stroke-width="2.6" stroke-dasharray="14.8 14.16" fill="none"/>
<path d="M1618.3 36.3 L1618.4 704.0 L1620.8 704.0 L1620.9 976.0" stroke="#111" stroke-width="2.6" stroke-dasharray="14.8 14.16" fill="none"/>
<path d="M377.0 960.4L407.0 960.4L392 984.1Z" fill="#000"/>
<path d="M1121.2 933.7L1150.8 933.7L1136 956.6Z" fill="#000"/>
<path d="M1216.5 943.5L1245.3 943.5L1230.9 966.5Z" fill="#000"/>
<path d="M1361.8 1009.5L1390.6 1009.5L1376.2 1032.1Z" fill="#000"/>
<path d="M1498.0 933.9L1527.2 933.9L1512.6 955.5Z" fill="#000"/>
<path d="M1552.6 950L1581.4 950L1567 973Z" fill="#000"/>
<path d="M1605.9 987.8L1635.1 987.8L1620.5 1010.6Z" fill="#000"/>
<g font-family="Liberation Sans, Arial, sans-serif" font-size="57" text-anchor="middle" fill="#000">
<text transform="translate(412.6 1047.1) rotate(-90) scale(0.99 1)">O-H</text>
<text transform="translate(1156.5 1048.2) rotate(-90) scale(1.0 1)">H-O-H</text>
<text transform="translate(1250.1 1052.9) rotate(-90) scale(0.9675 1)">Al-OH</text>
<text transform="translate(1396.5 1130.7) rotate(-90) scale(0.9887 1)">Si-O-Si</text>
<text transform="translate(1532.8 1056.8) rotate(-90) scale(0.98 1)">Al-O-Si</text>
<text transform="translate(1633.8 1109.4) rotate(-90) scale(0.988 1)">O-Si-O</text>
<text transform="translate(1581.4 1062) rotate(-90)" text-anchor="start" x="-56">Al-O<tspan font-size="40" dy="16">6</tspan></text>
</g>
</svg>
</body></html>
